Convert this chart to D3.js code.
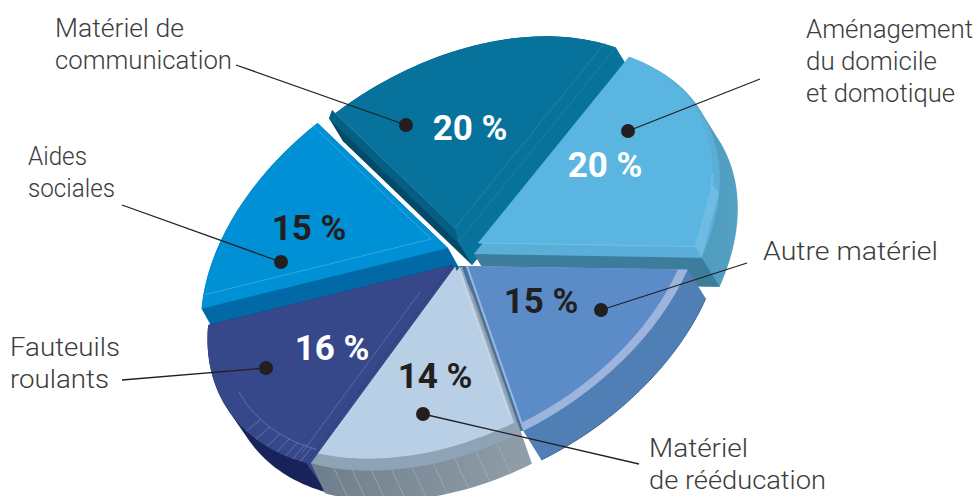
<!DOCTYPE html>
<html>
<head>
<meta charset="utf-8">
<script src="https://cdn.jsdelivr.net/npm/d3@7"></script>
<style>
  html, body { margin: 0; padding: 0; background: #fff; }
  svg { display: block; }
  text { font-family: Roboto, sans-serif; }
</style>
</head>
<body>
<svg id="chart" width="977" height="496"></svg>
<script>
// clockwise from the boundary between "communication" and "domicile"
const values = [20, 15, 14, 16, 15, 20];
const labels = [
    ['Aménagement', 'du domicile', 'et domotique'],
    ['Autre matériel'],
    ['Matériel', 'de rééducation'],
    ['Fauteuils', 'roulants'],
    ['Aides', 'sociales'],
    ['Matériel de', 'communication']
];

// tilted ellipse of the pie: d3.arc x/y (radius 1) to page pixels
const M = { a: 194.7, b: 69.8, c: -164.2, d: 202.6 };
const R = 100;

// annotation layout, same order as values
const percentPos = [[605, 177], [541, 313], [435, 388], [332, 360], [309, 240], [470, 140]];
const percentFill = ['#fff', '#231f20', '#231f20', '#fff', '#231f20', '#fff'];
const labelPos = [[806, 38], [763, 260], [649, 457], [10, 356], [28, 165], [55, 37]];
const labelWidths = [[167, 131, 149], [175], [99, 177], [110, 99], [59, 87], [129, 177]];
const dotPos = [[628, 131], [601, 310], [423, 414], [266, 368], [281, 262], [406, 125]];
const leaderEnd = [[760, 79], [747, 263], [639, 464], [122, 380], [122, 205], [236, 65]];

const svg = d3.select('#chart');
const defs = svg.append('defs');
const arcs = d3.pie().sort(null).value(d => d)(values);
const [A, F, E, D, C, B] = arcs;

const arcGen = d3.arc().innerRadius(0).outerRadius(R);
const lineGen = d3.line();

function gradient(id, x1, x2, from, to) {
    const g = defs.append('linearGradient').attr('id', id)
        .attr('gradientUnits', 'userSpaceOnUse')
        .attr('x1', x1).attr('y1', 0).attr('x2', x2).attr('y2', 0);
    g.append('stop').attr('offset', 0).attr('stop-color', from);
    g.append('stop').attr('offset', 1).attr('stop-color', to);
    return 'url(#' + id + ')';
}

function pt(g, ang, r) {
    const k = g.k * (r === undefined ? 1 : r);
    const x = Math.sin(ang), y = -Math.cos(ang);
    return [g.x + k * (M.a * x + M.c * y), g.y + k * (M.b * x + M.d * y)];
}

function wedge(parent, s, g, fill) {
    const f = g.k / R;
    return parent.append('path')
        .datum(s)
        .attr('d', arcGen)
        .attr('transform', `matrix(${M.a * f},${M.b * f},${M.c * f},${M.d * f},${g.x},${g.y})`)
        .attr('fill', fill);
}

function rim(s, g, r) {
    return d3.range(0, 41).map(i => pt(g, s.startAngle + (s.endAngle - s.startAngle) * i / 40, r));
}

// side wall: hull of the wedge and its copy moved by the depth vector
function wall(s, g, dx, dy, fill) {
    const p = [[g.x, g.y]].concat(rim(s, g));
    const all = p.concat(p.map(q => [q[0] + dx, q[1] + dy]));
    poly(d3.polygonHull(all), fill);
}

function poly(points, fill) {
    svg.append('path').attr('d', lineGen(points) + 'Z').attr('fill', fill);
}

function edgeBand(ang, g, dx, dy, fill) {
    const e = pt(g, ang);
    poly([[g.x, g.y], e, [e[0] + dx, e[1] + dy], [g.x + dx, g.y + dy]], fill);
}

function hair(points, color, w) {
    svg.append('path').attr('d', lineGen(points)).attr('fill', 'none')
        .attr('stroke', color).attr('stroke-width', w || 0.6);
}

function spokes(g, ang, color) {
    hair([[g.x, g.y], pt(g, ang)], color);
}

// ---- communication (back)
const bOuter = { x: 458, y: 242, k: 0.96 };
const bInner = { x: 455, y: 228, k: 0.915 };
wall(B, bOuter, 14, 23, '#034a69');
edgeBand(B.endAngle, bOuter, 14, 23, '#07739c');
wedge(svg, B, bOuter, '#07739c');
poly([[bOuter.x, bOuter.y], pt(bOuter, B.startAngle), pt(bInner, B.startAngle), [bInner.x, bInner.y]], '#055f85');
spokes(bInner, B.startAngle, '#3f8cab');
spokes(bInner, B.endAngle, '#3f8cab');
spokes(bOuter, B.endAngle, '#3f8cab');

// ---- domicile
const aOuter = { x: 474, y: 254, k: 0.965 };
const aFace = { x: 478, y: 243, k: 0.92 };
wall(A, aOuter, 18, 29, gradient('aWall', 620, 740, '#4a90b2', '#53a1c4'));
edgeBand(A.endAngle, aOuter, 18, 29, '#3d7d9c');
wedge(svg, A, aOuter, '#5aafd9');
wedge(svg, A, aFace, '#5ab6e1');
hair(rim(A, aFace).slice(28), '#9fd4ee');
hair([[aFace.x, aFace.y], pt(aFace, A.endAngle)], '#86c8e8');
poly([pt(aFace, A.endAngle), pt(aOuter, A.endAngle), pt(aOuter, A.endAngle - 0.32), pt(aFace, A.endAngle - 0.32)], '#6fbbe2');

// ---- aides
const cFace = { x: 448, y: 248, k: 0.97 };
const cLine = { x: 431, y: 239, k: 0.89 };
wall(C, cFace, 14, 25, '#0069a6');
wedge(svg, C, cFace, '#0090d6');
spokes(cLine, C.startAngle, '#58b7e8');
spokes(cLine, C.endAngle, '#58b7e8');

// ---- autre matériel
const fOuter = { x: 466, y: 266, k: 0.94 };
const fFace = { x: 468, y: 266, k: 0.89 };
wall(F, fOuter, 18, 29, '#4f7fb4');
hair(rim(F, fOuter).map(p => [p[0] + 18, p[1] + 29]), '#3c699c', 1);
edgeBand(F.endAngle, fOuter, -8, 0, '#44729f');
wedge(svg, F, fOuter, '#9db4dd');
wedge(svg, F, fFace, '#5b8cc8');

// ---- fauteuils
const dFace = { x: 452, y: 265, k: 0.96 };
const dLine = { x: 420, y: 292, k: 0.78 };
wall(D, dFace, 20, 29, '#18235a');
edgeBand(D.startAngle, dFace, 20, 29, '#36488a');
wedge(svg, D, dFace, '#36488a');
spokes(dLine, D.startAngle, '#6f80b2');
hair(rim(D, dFace, 0.93).slice(0, 24), '#7a8ab8');
[0.03, 0.07, 0.11, 0.16, 0.22, 0.29, 0.36].forEach(t => {
    const ang = D.startAngle + (D.endAngle - D.startAngle) * t;
    hair([pt(dFace, ang, 0.93), pt(dFace, ang, 1)], '#7a8ab8');
});

// ---- rééducation (front)
const eOuter = { x: 455, y: 267, k: 0.95 };
const eWide = { x: 460, y: 267, k: 0.95 };
const eFace = { x: 453, y: 255, k: 0.95 };
const eFaceWide = { x: 458, y: 255, k: 0.95 };
const eWallFill = gradient('eWall', 320, 530, '#6f7f8c', '#909eaa');
const eRimFill = gradient('eRim', 315, 520, '#8fa3b7', '#c8d8e8');
wall(E, eWide, 14, 30, eWallFill);
wall(E, eOuter, 14, 30, eWallFill);
edgeBand(E.startAngle, eWide, 2, 0, '#9aa8b5');
wedge(svg, E, eWide, eRimFill);
wedge(svg, E, eOuter, eRimFill);
defs.append('clipPath').attr('id', 'eClip').call(cp => {
    wedge(cp, E, eOuter, '#000');
    wedge(cp, E, eWide, '#000');
});
const eClipped = svg.append('g').attr('clip-path', 'url(#eClip)');
wedge(eClipped, E, eFace, '#b8cfe5');
wedge(eClipped, E, eFaceWide, '#b8cfe5');
d3.range(1, 10).forEach(i => {
    const p = pt(eWide, E.startAngle + (E.endAngle - E.startAngle) * i / 10);
    hair([p, [p[0] + 14, p[1] + 30]], '#aab6c0');
});
hair([pt(eOuter, E.startAngle, 0.05), pt(eOuter, E.startAngle, 0.92)].map(p => [p[0] + 2, p[1] - 3]), '#d5e3f0');

// ---- annotations
labels.forEach((lines, i) => {
    lines.forEach((line, j) => {
        svg.append('text')
            .attr('x', labelPos[i][0]).attr('y', labelPos[i][1] + j * 32)
            .attr('fill', '#3c3c3b').attr('font-size', 26).attr('font-weight', 300)
            .attr('textLength', labelWidths[i][j]).attr('lengthAdjust', 'spacingAndGlyphs')
            .text(line);
    });

    svg.append('text')
        .attr('x', percentPos[i][0]).attr('y', percentPos[i][1])
        .attr('text-anchor', 'middle')
        .attr('fill', percentFill[i]).attr('font-size', 35).attr('font-weight', 700)
        .text(values[i] + ' %');

    svg.append('line')
        .attr('x1', dotPos[i][0]).attr('y1', dotPos[i][1])
        .attr('x2', leaderEnd[i][0]).attr('y2', leaderEnd[i][1])
        .attr('stroke', '#231f20').attr('stroke-width', 1.3);
    svg.append('circle')
        .attr('cx', dotPos[i][0]).attr('cy', dotPos[i][1]).attr('r', 7)
        .attr('fill', '#231f20');
});
</script>
</body>
</html>
